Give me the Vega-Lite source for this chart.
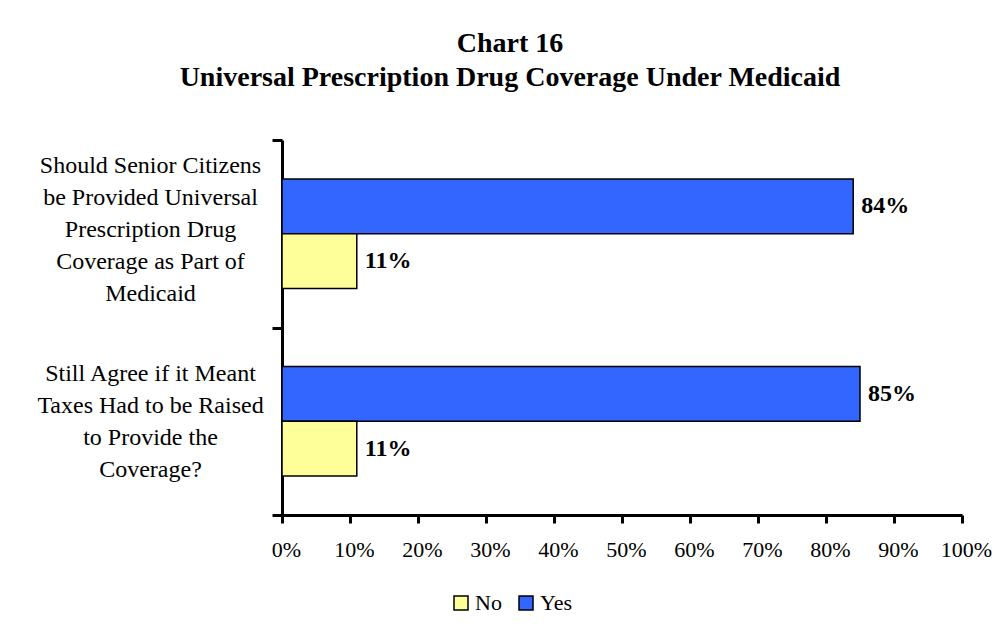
{
  "$schema": "https://vega.github.io/schema/vega-lite/v6.json",
  "width": 680,
  "height": 375,
  "autosize": {"type": "none"},
  "padding": {"left": 282, "top": 140, "right": 41, "bottom": 127},
  "background": "white",
  "title": {
    "text": ["Chart 16", "Universal Prescription Drug Coverage Under Medicaid"],
    "font": "Liberation Serif",
    "fontSize": 28,
    "fontWeight": "bold",
    "lineHeight": 34,
    "anchor": "middle",
    "dx": -112,
    "offset": 36,
    "color": "black"
  },
  "data": {
    "values": [
      {"question": "Should Senior Citizens|be Provided Universal|Prescription Drug|Coverage as Part of|Medicaid", "response": "Yes", "value": 0.84},
      {"question": "Should Senior Citizens|be Provided Universal|Prescription Drug|Coverage as Part of|Medicaid", "response": "No", "value": 0.11},
      {"question": "Still Agree if it Meant|Taxes Had to be Raised|to Provide the|Coverage?", "response": "Yes", "value": 0.85},
      {"question": "Still Agree if it Meant|Taxes Had to be Raised|to Provide the|Coverage?", "response": "No", "value": 0.11}
    ]
  },
  "encoding": {
    "y": {
      "field": "question",
      "type": "nominal",
      "sort": null,
      "scale": {"paddingInner": 0, "paddingOuter": 0},
      "axis": {
        "title": null,
        "tickBand": "extent",
        "labelExpr": "split(datum.label, '|')",
        "labelAlign": "center",
        "labelBaseline": "middle",
        "labelPadding": 122,
        "labelLineHeight": 32,
        "labelOffset": {"condition": {"test": "indexof(datum.label, 'Medicaid') >= 0", "value": -68}, "value": -48},
        "labelFontSize": 24,
        "labelFont": "Liberation Serif",
        "labelColor": "black",
        "tickSize": 10,
        "labelLimit": 0
      }
    },
    "yOffset": {
      "field": "response",
      "type": "nominal",
      "sort": ["Yes", "No"],
      "scale": {"paddingOuter": 0.71, "paddingInner": 0}
    },
    "x": {
      "field": "value",
      "type": "quantitative",
      "scale": {"domain": [0, 1], "nice": false},
      "axis": {
        "title": null,
        "format": "%",
        "values": [0, 0.1, 0.2, 0.3, 0.4, 0.5, 0.6, 0.7, 0.8, 0.9, 1],
        "grid": false,
        "tickSize": 8,
        "labelPadding": 16,
        "labelFontSize": 22,
        "labelFont": "Liberation Serif",
        "labelColor": "black",
        "labelOverlap": false,
        "labelFlush": false,
        "labelOffset": 4
      }
    }
  },
  "layer": [
    {
      "mark": {"type": "bar", "stroke": "black", "strokeWidth": 1.5},
      "encoding": {
        "color": {
          "field": "response",
          "type": "nominal",
          "scale": {"domain": ["No", "Yes"], "range": ["#FFFF99", "#3366FF"]},
          "legend": {
            "title": null,
            "orient": "none",
            "legendX": 168,
            "legendY": 452,
            "direction": "horizontal",
            "symbolType": "square",
            "symbolSize": 196,
            "symbolStrokeColor": "black",
            "symbolStrokeWidth": 1.5,
            "symbolOpacity": 1,
            "labelFontSize": 22,
            "labelFont": "Liberation Serif",
            "labelColor": "black",
            "columnPadding": 13,
            "labelOffset": 3
          }
        }
      }
    },
    {
      "mark": {"type": "text", "align": "left", "baseline": "middle", "dx": 8, "fontSize": 24, "fontWeight": "bold", "font": "Liberation Serif", "color": "black"},
      "encoding": {
        "text": {"field": "value", "type": "quantitative", "format": ".0%"}
      }
    }
  ],
  "config": {
    "view": {"stroke": null},
    "axis": {
      "domainColor": "black",
      "domainWidth": 3,
      "tickColor": "black",
      "tickWidth": 3
    }
  }
}
